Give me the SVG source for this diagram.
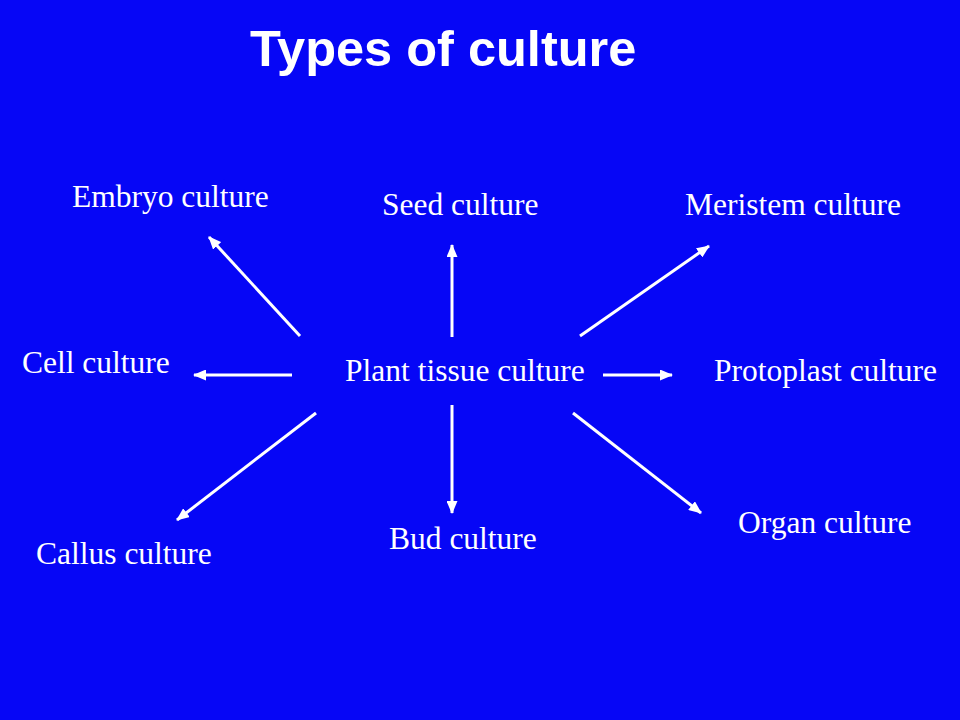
<svg xmlns="http://www.w3.org/2000/svg" width="960" height="720" viewBox="0 0 960 720">
<style>
.lbl{font-family:"Liberation Serif","Times New Roman",serif;font-size:31.5px;fill:#fff}
.title{font-family:"Liberation Sans",Arial,sans-serif;font-weight:bold;font-size:50.5px;fill:#fff}
.arr{stroke:#fff;stroke-width:3;fill:none;marker-end:url(#ah)}
</style>
<defs>
<marker id="ah" markerUnits="userSpaceOnUse" markerWidth="13" markerHeight="11" refX="12" refY="5.5" orient="auto">
<path d="M0,0 L13,5.5 L0,11 Z" fill="#fff"/>
</marker>
</defs>
<rect width="960" height="720" fill="#0606F6"/>
<text class="title" x="250" y="66">Types of culture</text>
<g id="center"><text class="lbl" x="345" y="381">Plant tissue culture</text></g>
<g id="embryo"><text class="lbl" x="72" y="207">Embryo culture</text></g>
<g id="seed"><text class="lbl" x="382" y="215">Seed culture</text></g>
<g id="meristem"><text class="lbl" x="685" y="215">Meristem culture</text></g>
<g id="cell"><text class="lbl" x="22" y="373">Cell culture</text></g>
<g id="protoplast"><text class="lbl" x="714" y="381">Protoplast culture</text></g>
<g id="callus"><text class="lbl" x="36" y="564">Callus culture</text></g>
<g id="bud"><text class="lbl" x="389" y="549">Bud culture</text></g>
<g id="organ"><text class="lbl" x="738" y="533">Organ culture</text></g>
<g id="connectors">
<line class="arr" x1="300" y1="336" x2="209" y2="237"/>
<line class="arr" x1="452" y1="337" x2="452" y2="245"/>
<line class="arr" x1="580" y1="336" x2="709" y2="246"/>
<line class="arr" x1="292" y1="375" x2="194" y2="375"/>
<line class="arr" x1="603" y1="375" x2="672" y2="375"/>
<line class="arr" x1="316" y1="413" x2="177" y2="520"/>
<line class="arr" x1="452" y1="405" x2="452" y2="513"/>
<line class="arr" x1="573" y1="413" x2="701" y2="513"/>
</g>
</svg>
